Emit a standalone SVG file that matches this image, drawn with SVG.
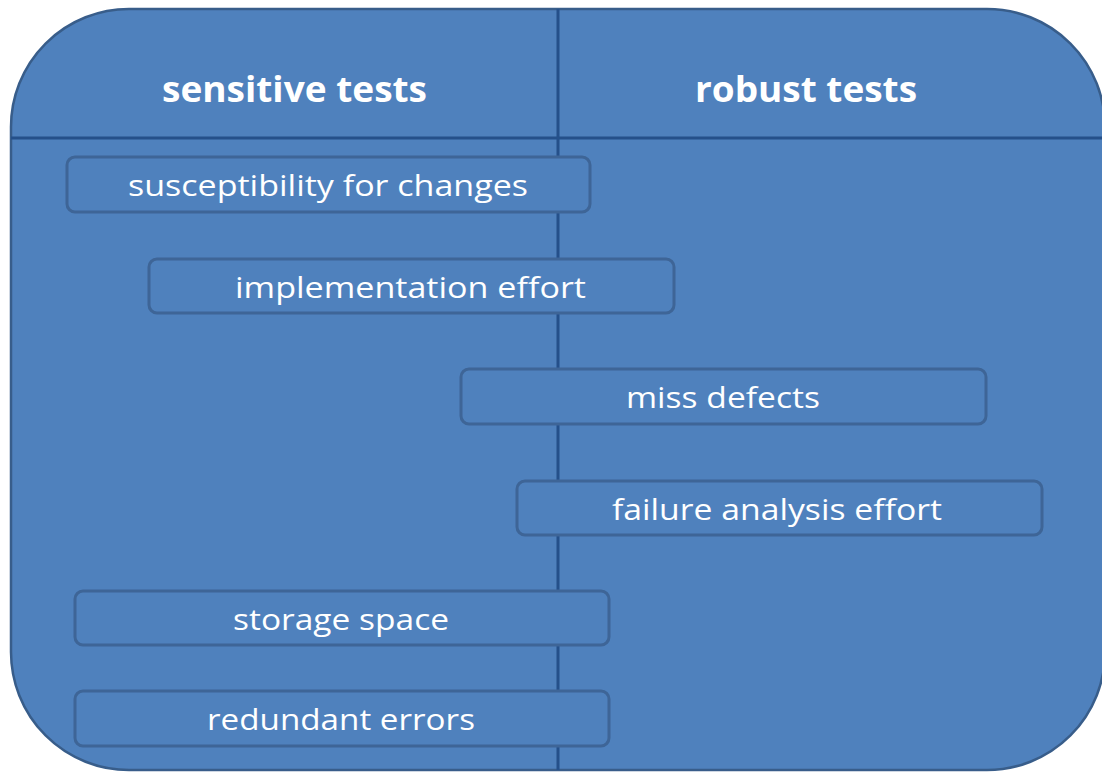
<svg xmlns="http://www.w3.org/2000/svg" width="1102" height="772" viewBox="0 0 1102 772">
  <style>
    .panel { fill: #4f81bd; stroke: #385d8a; stroke-width: 2.5; }
    .divider { stroke: #25508a; stroke-width: 3; fill: none; }
    .box { fill: #4f81bd; stroke: #3e6597; stroke-width: 3; }
    .hdr { font-family: "Open Sans", "Liberation Sans", sans-serif; font-weight: bold; font-size: 36px; fill: #ffffff; text-anchor: middle; }
    .lbl { font-family: "Open Sans", "Liberation Sans", sans-serif; font-size: 29px; fill: #ffffff; text-anchor: middle; }
  </style>
  <rect width="1102" height="772" fill="#ffffff"/>
  <g id="panel">
    <rect class="panel" x="11" y="9" width="1094" height="761" rx="118" ry="118"/>
  </g>
  <g id="connectors">
    <line class="divider" x1="11" y1="138" x2="1102" y2="138"/>
    <line class="divider" x1="558" y1="9" x2="558" y2="770"/>
  </g>
  <g id="header-sensitive">
    <text class="hdr" x="294.5" y="102" textLength="265" lengthAdjust="spacingAndGlyphs">sensitive tests</text>
  </g>
  <g id="header-robust">
    <text class="hdr" x="806" y="102" textLength="222" lengthAdjust="spacingAndGlyphs">robust tests</text>
  </g>
  <g id="node-susceptibility">
    <rect class="box" x="67" y="157" width="523" height="55" rx="8"/>
    <text class="lbl" x="328" y="196" textLength="400" lengthAdjust="spacingAndGlyphs">susceptibility for changes</text>
  </g>
  <g id="node-implementation">
    <rect class="box" x="149" y="259" width="525" height="54" rx="8"/>
    <text class="lbl" x="410.5" y="297.5" textLength="351" lengthAdjust="spacingAndGlyphs">implementation effort</text>
  </g>
  <g id="node-miss">
    <rect class="box" x="461" y="369" width="525" height="55" rx="8"/>
    <text class="lbl" x="723" y="407.5" textLength="194" lengthAdjust="spacingAndGlyphs">miss defects</text>
  </g>
  <g id="node-failure">
    <rect class="box" x="517" y="481" width="525" height="54" rx="8"/>
    <text class="lbl" x="777" y="519.5" textLength="330" lengthAdjust="spacingAndGlyphs">failure analysis effort</text>
  </g>
  <g id="node-storage">
    <rect class="box" x="75" y="591" width="534" height="54" rx="8"/>
    <text class="lbl" x="341" y="629.5" textLength="216" lengthAdjust="spacingAndGlyphs">storage space</text>
  </g>
  <g id="node-redundant">
    <rect class="box" x="75" y="691" width="534" height="55" rx="8"/>
    <text class="lbl" x="341" y="730" textLength="268" lengthAdjust="spacingAndGlyphs">redundant errors</text>
  </g>
</svg>
